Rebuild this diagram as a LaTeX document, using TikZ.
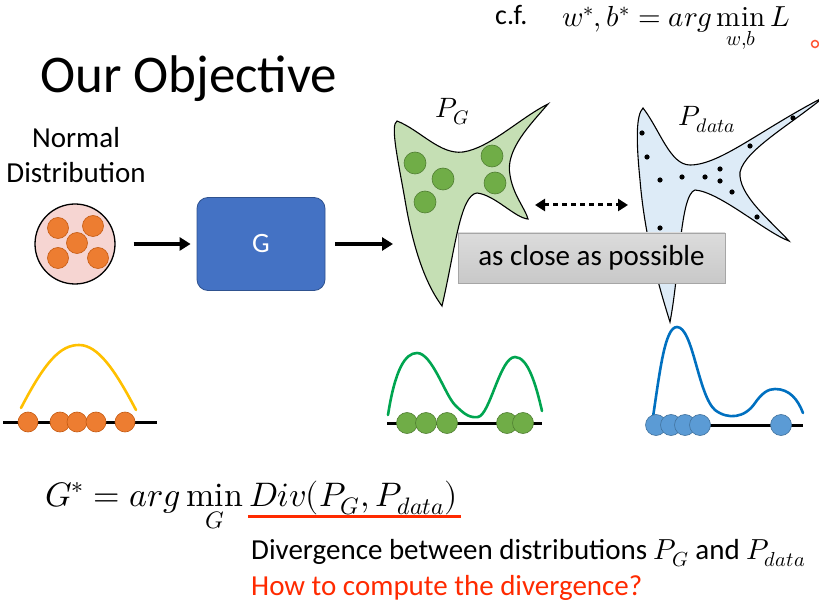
\documentclass[tikz,border=0pt]{standalone}
\usepackage{fontspec}
\usepackage{unicode-math}
\setmainfont{Carlito}
\setmathfont{Latin Modern Math}
\newcommand{\mymin}{\mathop{\symup{min}}\limits}
\usetikzlibrary{arrows.meta}
\definecolor{gblue}{HTML}{4472C4}
\definecolor{gblueedge}{HTML}{2F528F}
\definecolor{pinkfill}{HTML}{F6D5D2}
\definecolor{orangedot}{HTML}{ED7D31}
\definecolor{orangeedge}{HTML}{C55A11}
\definecolor{greendot}{HTML}{70AD47}
\definecolor{greenedge}{HTML}{507E32}
\definecolor{bluedot}{HTML}{5B9BD5}
\definecolor{blueedge}{HTML}{41719C}
\definecolor{pgfill}{HTML}{C5DFB4}
\definecolor{pdfill}{HTML}{DDEBF7}
\definecolor{yellowc}{HTML}{FFC000}
\definecolor{greenc}{HTML}{00A550}
\definecolor{bluec}{HTML}{0070C0}
\definecolor{redc}{HTML}{FF2A00}
\definecolor{boxgray}{HTML}{D3D3D3}
\tikzset{
  bigarrow/.style={line width=3.5pt, -{Triangle[length=11pt,width=13pt]}},
  odot/.style={fill=orangedot, draw=orangeedge, line width=0.6pt},
  gdot/.style={fill=greendot, draw=greenedge, line width=0.6pt},
  bdot/.style={fill=bluedot, draw=blueedge, line width=0.6pt},
  axisline/.style={line width=3pt, black},
  density/.style={line width=2.6pt, line cap=round},
  blob/.style={draw=black, line width=1.1pt},
}
\begin{document}
\begin{tikzpicture}[x=1pt,y=-1pt]
\useasboundingbox (0,0) rectangle (819,609);

% top right note
\node[anchor=base west, inner sep=0pt, font=\fontsize{28}{32}\selectfont] (cf) at (495,25) {c.f.};
\node[anchor=base west, font=\fontsize{29}{32}\selectfont, inner sep=0pt] (cfeq) at (562,27)
  {$\displaystyle w^*,b^* = arg\mymin_{w,b} L$};
\draw[redc!80, line width=1.5pt] (815,44) circle (3.5pt);

% title
\node[anchor=base west, font=\fontsize{53}{58}\selectfont, inner sep=0pt] (title) at (40,93) {Our Objective};

% normal distribution
\node[align=center, font=\fontsize{29}{35}\selectfont] (ndlabel) at (76,155) {Normal\\Distribution};
\node[circle, draw=black, line width=1.3pt, fill=pinkfill, minimum size=80pt, inner sep=0pt] (nd) at (75,244) {};
\foreach \p in {(58,228),(93,226),(77,243),(58,258),(98,258)}
  \draw[odot] \p circle (10.5pt);

% generator
\node[rounded corners=11pt, fill=gblue, draw=gblueedge, line width=0.8pt,
      minimum width=128pt, minimum height=93pt, text=white,
      font=\fontsize{28}{32}\selectfont] (gbox) at (261,244) {G};
\coordinate (pgin) at (393,244);
\draw[bigarrow, shorten <=18pt, shorten >=6pt] (nd) -- (gbox);
\draw[bigarrow, shorten <=10pt] (gbox) -- (pgin);

% P_G blob
\path[blob, fill=pgfill] (397,121) .. controls (420,130) and (440,155) .. (463,152)
  .. controls (490,148) and (520,118) .. (548,104)
  .. controls (530,125) and (505,150) .. (510,175)
  .. controls (513,195) and (525,208) .. (528,219)
  .. controls (515,218) and (495,195) .. (477,193)
  .. controls (460,195) and (455,250) .. (442,306)
  .. controls (430,290) and (415,260) .. (405,200)
  .. controls (398,160) and (390,125) .. (397,121) -- cycle;
\foreach \p in {(415,163),(443,179),(492,156),(495,183),(425,202)}
  \draw[gdot] \p circle (11pt);
\node[font=\fontsize{28}{32}\selectfont] (pglabel) at (452,112) {$P_G$};

% P_data blob
\path[blob, fill=pdfill] (643,108) .. controls (660,130) and (670,165) .. (690,165)
  .. controls (720,165) and (760,130) .. (824,97)
  .. controls (790,125) and (745,150) .. (740,172)
  .. controls (738,195) and (770,220) .. (789,241)
  .. controls (765,232) and (720,192) .. (695,190)
  .. controls (680,195) and (680,270) .. (670,322)
  .. controls (660,290) and (645,240) .. (640,180)
  .. controls (636,140) and (636,115) .. (643,108) -- cycle;
\foreach \p in {(642,133),(647,157),(660,180),(682,177),(705,177),(720,169),(720,181),(732,192),(750,146),(757,217),(660,228),(793,118)}
  \fill[black] \p circle (2.6pt);
\node[font=\fontsize{28}{32}\selectfont] (pdlabel) at (707,120) {$P_{data}$};

% dotted double arrow
\coordinate (dl) at (535,205);
\coordinate (dr) at (628,205);
\draw[line width=3pt, dash pattern=on 5pt off 4pt,
  {Triangle[length=10pt,width=12pt]}-{Triangle[length=10pt,width=12pt]}] (dl) -- (dr);

% gray box
\node[draw=gray!70, line width=0.8pt, top color=boxgray!80, bottom color=boxgray!95!black,
      minimum width=267pt, minimum height=50pt, inner sep=0pt,
      font=\fontsize{29}{32}\selectfont] (closebox) at (591.5,258) {as close as possible};

% bottom densities
% normal
\draw[axisline] (3,422) -- (157,422);
\draw[density, yellowc] (21,408) .. controls (45,362) and (60,345) .. (79,345)
  .. controls (98,345) and (115,370) .. (136,410);
\foreach \x in {28,60,77,96,125}
  \draw[odot] (\x,422) circle (10pt);
% generated
\draw[axisline] (387,423) -- (542,423);
\draw[density, greenc] (388,415) .. controls (395,370) and (405,353) .. (417,353)
  .. controls (432,353) and (445,395) .. (455,405)
  .. controls (465,415) and (470,418) .. (478,417)
  .. controls (490,415) and (500,357) .. (515,357)
  .. controls (528,357) and (536,385) .. (542,411);
\foreach \x in {407,426,447,507,523}
  \draw[gdot] (\x,423) circle (10.5pt);
% data
\draw[axisline] (653,425) -- (803,425);
\draw[density, bluec] (653,417) .. controls (660,370) and (665,327) .. (677,327)
  .. controls (693,327) and (698,395) .. (715,410)
  .. controls (728,420) and (745,418) .. (755,403)
  .. controls (762,393) and (768,389) .. (775,389)
  .. controls (790,389) and (798,400) .. (803,413);
\foreach \x in {656,671,685,700,781}
  \draw[bdot] (\x,425) circle (10.5pt);

% objective
\node[anchor=base west, inner sep=0pt, font=\fontsize{34}{38}\selectfont] (obj) at (45,506)
  {$\displaystyle G^* = arg\mymin_G Div(P_G,P_{data})$};
\coordinate (ul) at (248,516);
\coordinate (ur) at (461,516);
\draw[redc, line width=3pt] (ul) -- (ur);

\node[anchor=base west, inner sep=0pt, font=\fontsize{29}{34}\selectfont] (divtext) at (251,559)
  {Divergence between distributions $P_G$ and $P_{data}$};
\node[anchor=base west, inner sep=0pt, text=redc, font=\fontsize{29}{34}\selectfont] (howtext) at (251,595)
  {How to compute the divergence?};
\end{tikzpicture}
\end{document}
